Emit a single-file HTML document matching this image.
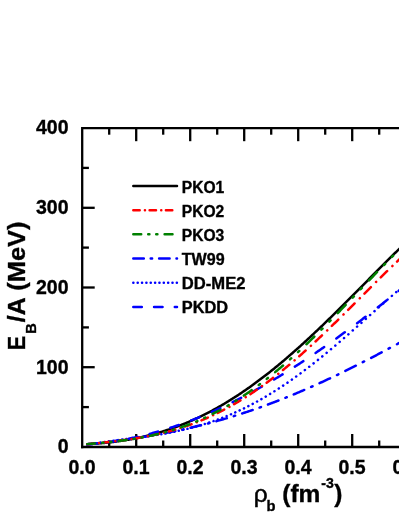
<!DOCTYPE html>
<html><head><meta charset="utf-8"><title>EOS</title>
<style>
html,body{margin:0;padding:0;background:#fff;}
body{width:399px;height:516px;overflow:hidden;}
svg{display:block;will-change:transform;}
text{font-family:"Liberation Sans",sans-serif;font-weight:bold;fill:#000;stroke:#000;stroke-width:0.35px;}
.tl{font-size:19.5px;}
.lg{font-size:15.6px;}
.ax{font-size:24.5px;}
.crv{fill:none;stroke-width:2.5;stroke-linecap:round;stroke-linejoin:round;}
</style></head><body>
<svg width="399" height="516" viewBox="0 0 399 516">
<rect width="399" height="516" fill="#fff"/>
<defs><clipPath id="cp"><rect x="82" y="128" width="330" height="320"/></clipPath></defs>

<g stroke="#000" stroke-width="2.3" fill="none" stroke-linecap="butt">
<path d="M82.2,448.15 L82.2,128.2 L404,128.2"/>
<path d="M81.05,447.0 L404,447.0"/>
<path d="M109.2,447.0 v-6.5"/>
<path d="M109.2,128.2 v6.5"/>
<path d="M136.2,447.0 v-13"/>
<path d="M136.2,128.2 v13"/>
<path d="M163.2,447.0 v-6.5"/>
<path d="M163.2,128.2 v6.5"/>
<path d="M190.2,447.0 v-13"/>
<path d="M190.2,128.2 v13"/>
<path d="M217.2,447.0 v-6.5"/>
<path d="M217.2,128.2 v6.5"/>
<path d="M244.2,447.0 v-13"/>
<path d="M244.2,128.2 v13"/>
<path d="M271.2,447.0 v-6.5"/>
<path d="M271.2,128.2 v6.5"/>
<path d="M298.2,447.0 v-13"/>
<path d="M298.2,128.2 v13"/>
<path d="M325.2,447.0 v-6.5"/>
<path d="M325.2,128.2 v6.5"/>
<path d="M352.2,447.0 v-13"/>
<path d="M352.2,128.2 v13"/>
<path d="M379.2,447.0 v-6.5"/>
<path d="M379.2,128.2 v6.5"/>
<path d="M406.2,447.0 v-13"/>
<path d="M406.2,128.2 v13"/>
<path d="M82.2,407.1 h6.7"/>
<path d="M82.2,367.2 h12.5"/>
<path d="M82.2,327.4 h6.7"/>
<path d="M82.2,287.5 h12.5"/>
<path d="M82.2,247.6 h6.7"/>
<path d="M82.2,207.8 h12.5"/>
<path d="M82.2,167.9 h6.7"/>
</g>
<g clip-path="url(#cp)">
<path class="crv" d="M87.30,444.20 L88.30,444.14 L89.30,444.08 L90.30,444.02 L91.30,443.95 L92.30,443.89 L93.30,443.82 L94.30,443.74 L95.30,443.67 L96.30,443.59 L97.30,443.52 L98.30,443.43 L99.30,443.35 L100.30,443.26 L101.30,443.18 L102.30,443.08 L103.30,442.99 L104.30,442.89 L105.30,442.80 L106.30,442.69 L107.30,442.59 L108.30,442.48 L109.30,442.37 L110.30,442.26 L111.30,442.14 L112.30,442.02 L113.30,441.90 L114.30,441.77 L115.30,441.65 L116.30,441.51 L117.30,441.38 L118.30,441.24 L119.30,441.10 L120.30,440.96 L121.30,440.81 L122.30,440.66 L123.30,440.50 L124.30,440.35 L125.30,440.19 L126.30,440.02 L127.30,439.85 L128.30,439.68 L129.30,439.51 L130.30,439.33 L131.30,439.15 L132.30,438.96 L133.30,438.77 L134.30,438.58 L135.30,438.38 L136.30,438.18 L137.30,437.98 L138.30,437.77 L139.30,437.56 L140.30,437.34 L141.30,437.12 L142.30,436.90 L143.30,436.67 L144.30,436.44 L145.30,436.20 L146.30,435.97 L147.30,435.72 L148.30,435.47 L149.30,435.22 L150.30,434.97 L151.30,434.71 L152.30,434.44 L153.30,434.18 L154.30,433.91 L155.30,433.63 L156.30,433.35 L157.30,433.06 L158.30,432.78 L159.30,432.48 L160.30,432.19 L161.30,431.88 L162.30,431.58 L163.30,431.27 L164.30,430.95 L165.30,430.63 L166.30,430.31 L167.30,429.98 L168.30,429.65 L169.30,429.31 L170.30,428.97 L171.30,428.63 L172.30,428.28 L173.30,427.92 L174.30,427.56 L175.30,427.20 L176.30,426.83 L177.30,426.46 L178.30,426.08 L179.30,425.70 L180.30,425.32 L181.30,424.92 L182.30,424.53 L183.30,424.13 L184.30,423.72 L185.30,423.32 L186.30,422.90 L187.30,422.48 L188.30,422.06 L189.30,421.63 L190.30,421.20 L191.30,420.76 L192.30,420.32 L193.30,419.88 L194.30,419.42 L195.30,418.97 L196.30,418.51 L197.30,418.04 L198.30,417.57 L199.30,417.10 L200.30,416.62 L201.30,416.14 L202.30,415.65 L203.30,415.15 L204.30,414.66 L205.30,414.15 L206.30,413.65 L207.30,413.13 L208.30,412.62 L209.30,412.09 L210.30,411.57 L211.30,411.04 L212.30,410.50 L213.30,409.96 L214.30,409.42 L215.30,408.87 L216.30,408.31 L217.30,407.75 L218.30,407.19 L219.30,406.62 L220.30,406.05 L221.30,405.47 L222.30,404.89 L223.30,404.30 L224.30,403.71 L225.30,403.11 L226.30,402.51 L227.30,401.90 L228.30,401.29 L229.30,400.68 L230.30,400.06 L231.30,399.43 L232.30,398.80 L233.30,398.17 L234.30,397.53 L235.30,396.89 L236.30,396.24 L237.30,395.59 L238.30,394.93 L239.30,394.27 L240.30,393.61 L241.30,392.94 L242.30,392.26 L243.30,391.58 L244.30,390.90 L245.30,390.21 L246.30,389.52 L247.30,388.82 L248.30,388.12 L249.30,387.41 L250.30,386.70 L251.30,385.99 L252.30,385.27 L253.30,384.55 L254.30,383.82 L255.30,383.09 L256.30,382.35 L257.30,381.61 L258.30,380.87 L259.30,380.12 L260.30,379.37 L261.30,378.61 L262.30,377.85 L263.30,377.08 L264.30,376.31 L265.30,375.54 L266.30,374.76 L267.30,373.98 L268.30,373.19 L269.30,372.40 L270.30,371.61 L271.30,370.81 L272.30,370.01 L273.30,369.20 L274.30,368.40 L275.30,367.58 L276.30,366.76 L277.30,365.94 L278.30,365.12 L279.30,364.29 L280.30,363.46 L281.30,362.62 L282.30,361.78 L283.30,360.94 L284.30,360.09 L285.30,359.24 L286.30,358.39 L287.30,357.53 L288.30,356.67 L289.30,355.80 L290.30,354.93 L291.30,354.06 L292.30,353.19 L293.30,352.31 L294.30,351.43 L295.30,350.54 L296.30,349.66 L297.30,348.76 L298.30,347.87 L299.30,346.97 L300.30,346.07 L301.30,345.17 L302.30,344.26 L303.30,343.35 L304.30,342.44 L305.30,341.52 L306.30,340.60 L307.30,339.68 L308.30,338.76 L309.30,337.83 L310.30,336.90 L311.30,335.97 L312.30,335.03 L313.30,334.09 L314.30,333.15 L315.30,332.21 L316.30,331.26 L317.30,330.32 L318.30,329.36 L319.30,328.41 L320.30,327.46 L321.30,326.50 L322.30,325.54 L323.30,324.58 L324.30,323.61 L325.30,322.65 L326.30,321.68 L327.30,320.71 L328.30,319.73 L329.30,318.76 L330.30,317.78 L331.30,316.81 L332.30,315.83 L333.30,314.84 L334.30,313.86 L335.30,312.88 L336.30,311.89 L337.30,310.90 L338.30,309.91 L339.30,308.92 L340.30,307.93 L341.30,306.93 L342.30,305.94 L343.30,304.94 L344.30,303.94 L345.30,302.94 L346.30,301.94 L347.30,300.94 L348.30,299.94 L349.30,298.94 L350.30,297.93 L351.30,296.93 L352.30,295.92 L353.30,294.91 L354.30,293.91 L355.30,292.90 L356.30,291.89 L357.30,290.88 L358.30,289.87 L359.30,288.86 L360.30,287.85 L361.30,286.84 L362.30,285.83 L363.30,284.82 L364.30,283.81 L365.30,282.80 L366.30,281.79 L367.30,280.78 L368.30,279.76 L369.30,278.75 L370.30,277.74 L371.30,276.73 L372.30,275.72 L373.30,274.71 L374.30,273.71 L375.30,272.70 L376.30,271.69 L377.30,270.68 L378.30,269.68 L379.30,268.67 L380.30,267.67 L381.30,266.66 L382.30,265.66 L383.30,264.66 L384.30,263.66 L385.30,262.66 L386.30,261.66 L387.30,260.66 L388.30,259.67 L389.30,258.67 L390.30,257.68 L391.30,256.69 L392.30,255.70 L393.30,254.72 L394.30,253.73 L395.30,252.75 L396.30,251.77 L397.30,250.79 L398.30,249.81 L399.30,248.83 L400.30,247.86 L401.30,246.89 L402.30,245.92 L403.30,244.96" stroke="#000"/>
<path class="crv" d="M87.30,444.51 L88.30,444.40 L89.30,444.28 L90.30,444.17 L91.30,444.05 L92.30,443.94 L93.30,443.82 L94.30,443.70 L95.30,443.58 L96.30,443.46 L97.30,443.35 L97.85,443.28 M104.75,442.44 L105.75,442.31 L106.15,442.26 M113.15,441.37 L114.15,441.24 L115.15,441.11 L116.15,440.97 L117.15,440.84 L118.15,440.70 L119.15,440.57 L120.15,440.43 L121.15,440.29 L122.15,440.16 L123.15,440.02 L123.65,439.95 M130.55,438.95 L131.55,438.81 L131.95,438.75 M138.95,437.67 L139.95,437.52 L140.95,437.36 L141.95,437.20 L142.95,437.04 L143.95,436.87 L144.95,436.71 L145.95,436.54 L146.95,436.38 L147.95,436.21 L148.95,436.04 L149.45,435.96 M156.35,434.75 L157.35,434.57 L157.75,434.50 M164.75,433.19 L165.75,433.00 L166.75,432.81 L167.75,432.61 L168.75,432.41 L169.75,432.22 L170.75,432.02 L171.75,431.81 L172.75,431.61 L173.75,431.41 L174.75,431.20 L175.25,431.10 M182.15,429.63 L183.15,429.41 L183.55,429.32 M190.55,427.74 L191.55,427.51 L192.55,427.27 L193.55,427.04 L194.55,426.80 L195.55,426.56 L196.55,426.32 L197.55,426.08 L198.55,425.83 L199.55,425.58 L200.55,425.34 L201.05,425.21 M207.95,423.45 L208.95,423.19 L209.35,423.08 M216.35,421.19 L217.35,420.91 L218.35,420.63 L219.35,420.35 L220.35,420.07 L221.35,419.78 L222.35,419.50 L223.35,419.21 L224.35,418.92 L225.35,418.63 L226.35,418.34 L226.85,418.19 M233.75,416.11 L234.75,415.80 L235.15,415.67 M242.15,413.46 L243.15,413.13 L244.15,412.81 L245.15,412.48 L246.15,412.15 L247.15,411.82 L248.15,411.49 L249.15,411.15 L250.15,410.82 L251.15,410.48 L252.15,410.14 L252.65,409.97 M259.55,407.56 L260.55,407.21 L260.95,407.06 M267.95,404.52 L268.95,404.15 L269.95,403.78 L270.95,403.40 L271.95,403.03 L272.95,402.65 L273.95,402.27 L274.95,401.89 L275.95,401.51 L276.95,401.12 L277.95,400.73 L278.45,400.54 M285.35,397.82 L286.35,397.42 L286.75,397.26 M293.75,394.40 L294.75,393.98 L295.75,393.56 L296.75,393.14 L297.75,392.72 L298.75,392.30 L299.75,391.88 L300.75,391.45 L301.75,391.02 L302.75,390.60 L303.75,390.17 L304.25,389.95 M311.15,386.93 L312.15,386.49 L312.55,386.31 M319.55,383.16 L320.55,382.70 L321.55,382.24 L322.55,381.78 L323.55,381.32 L324.55,380.86 L325.55,380.39 L326.55,379.93 L327.55,379.46 L328.55,378.99 L329.55,378.52 L330.05,378.29 M336.95,375.01 L337.95,374.53 L338.35,374.33 M345.35,370.92 L346.35,370.43 L347.35,369.94 L348.35,369.45 L349.35,368.95 L350.35,368.45 L351.35,367.96 L352.35,367.46 L353.35,366.96 L354.35,366.46 L355.35,365.95 L355.85,365.70 M362.75,362.20 L363.75,361.69 L364.15,361.49 M371.15,357.88 L372.15,357.36 L373.15,356.84 L374.15,356.32 L375.15,355.79 L376.15,355.27 L377.15,354.75 L378.15,354.22 L379.15,353.70 L380.15,353.17 L381.15,352.64 L381.65,352.38 M388.55,348.72 L389.55,348.19 L389.95,347.98 M396.95,344.23 L397.95,343.70 L398.95,343.16 L399.95,342.62 L400.95,342.08 L401.95,341.54 L402.95,341.00 L403.95,340.46 L404.00,340.44" stroke="#00f"/>
<path class="crv" d="M87.30,444.81 L87.45,444.78 M91.70,444.00 L91.80,443.99 M96.05,443.26 L96.15,443.25 M100.40,442.57 L100.50,442.56 M104.75,441.93 L104.85,441.91 M109.10,441.31 L109.20,441.30 M113.45,440.72 L113.55,440.71 M117.80,440.16 L117.90,440.14 M122.15,439.60 L122.25,439.59 M126.50,439.06 L126.60,439.04 M130.85,438.51 L130.95,438.50 M135.20,437.95 L135.30,437.94 M139.55,437.39 L139.65,437.37 M143.90,436.80 L144.00,436.79 M148.25,436.19 L148.35,436.18 M152.60,435.55 L152.70,435.54 M156.95,434.88 L157.05,434.87 M161.30,434.17 L161.40,434.15 M165.65,433.41 L165.75,433.40 M170.00,432.61 L170.10,432.59 M174.35,431.75 L174.45,431.73 M178.70,430.84 L178.80,430.82 M183.05,429.86 L183.15,429.84 M187.40,428.83 L187.50,428.80 M191.75,427.72 L191.85,427.70 M196.10,426.55 L196.20,426.52 M200.45,425.30 L200.55,425.27 M204.80,423.98 L204.90,423.94 M209.15,422.57 L209.25,422.54 M213.50,421.09 L213.60,421.06 M217.85,419.53 L217.95,419.49 M222.20,417.88 L222.30,417.84 M226.55,416.15 L226.65,416.11 M230.90,414.33 L231.00,414.29 M235.25,412.42 L235.35,412.38 M239.60,410.43 L239.70,410.38 M243.95,408.35 L244.05,408.30 M248.30,406.17 L248.40,406.12 M252.65,403.91 L252.75,403.86 M257.00,401.56 L257.10,401.51 M261.35,399.12 L261.45,399.07 M265.70,396.60 L265.80,396.54 M270.05,393.98 L270.15,393.92 M274.40,391.28 L274.50,391.22 M278.75,388.50 L278.85,388.43 M283.10,385.63 L283.20,385.56 M287.45,382.68 L287.55,382.61 M291.80,379.65 L291.90,379.58 M296.15,376.54 L296.25,376.47 M300.50,373.36 L300.60,373.28 M304.85,370.10 L304.95,370.03 M309.20,366.78 L309.30,366.70 M313.55,363.38 L313.65,363.31 M317.90,359.93 L318.00,359.85 M322.25,356.42 L322.35,356.34 M326.60,352.85 L326.70,352.76 M330.95,349.23 L331.05,349.14 M335.30,345.56 L335.40,345.47 M339.65,341.85 L339.75,341.76 M344.00,338.10 L344.10,338.01 M348.35,334.31 L348.45,334.22 M352.70,330.50 L352.80,330.41 M357.05,326.67 L357.15,326.58 M361.40,322.82 L361.50,322.73 M365.75,318.95 L365.85,318.86 M370.10,315.08 L370.20,315.00 M374.45,311.22 L374.55,311.13 M378.80,307.36 L378.90,307.27 M383.15,303.51 L383.25,303.43 M387.50,299.69 L387.60,299.60 M391.85,295.90 L391.95,295.81 M396.20,292.14 L396.30,292.05 M400.55,288.42 L400.65,288.34" stroke="#00f"/>
<path class="crv" d="M87.30,444.15 L88.30,444.08 L89.30,444.01 L90.30,443.93 L91.30,443.86 L92.30,443.78 L93.30,443.69 L94.30,443.61 L95.30,443.52 L95.85,443.46 M108.10,442.08 L109.10,441.94 L110.10,441.81 L111.10,441.67 L112.10,441.52 L113.10,441.38 L114.10,441.23 L115.10,441.07 L116.10,440.92 L116.60,440.84 M128.85,438.65 L129.85,438.45 L130.85,438.24 L131.85,438.04 L132.85,437.83 L133.85,437.62 L134.85,437.40 L135.85,437.19 L136.85,436.96 L137.35,436.85 M149.60,433.87 L150.60,433.61 L151.60,433.35 L152.60,433.08 L153.60,432.80 L154.60,432.53 L155.60,432.25 L156.60,431.97 L157.60,431.68 L158.10,431.54 M170.35,427.80 L171.35,427.47 L172.35,427.15 L173.35,426.81 L174.35,426.48 L175.35,426.14 L176.35,425.80 L177.35,425.46 L178.35,425.12 L178.85,424.94 M191.10,420.46 L192.10,420.07 L193.10,419.69 L194.10,419.30 L195.10,418.90 L196.10,418.51 L197.10,418.11 L198.10,417.71 L199.10,417.30 L199.60,417.10 M211.85,411.90 L212.85,411.46 L213.85,411.02 L214.85,410.57 L215.85,410.12 L216.85,409.67 L217.85,409.21 L218.85,408.75 L219.85,408.29 L220.35,408.06 M232.60,402.18 L233.60,401.69 L234.60,401.19 L235.60,400.69 L236.60,400.18 L237.60,399.67 L238.60,399.16 L239.60,398.65 L240.60,398.14 L241.10,397.88 M253.35,391.36 L254.35,390.81 L255.35,390.26 L256.35,389.71 L257.35,389.15 L258.35,388.59 L259.35,388.03 L260.35,387.47 L261.35,386.90 L261.85,386.62 M274.10,379.50 L275.10,378.90 L276.10,378.30 L277.10,377.70 L278.10,377.10 L279.10,376.49 L280.10,375.88 L281.10,375.27 L282.10,374.66 L282.60,374.35 M294.85,366.66 L295.85,366.02 L296.85,365.38 L297.85,364.73 L298.85,364.08 L299.85,363.43 L300.85,362.78 L301.85,362.13 L302.85,361.47 L303.35,361.14 M315.60,352.94 L316.60,352.26 L317.60,351.57 L318.60,350.89 L319.60,350.20 L320.60,349.51 L321.60,348.82 L322.60,348.12 L323.60,347.43 L324.10,347.08 M336.35,338.41 L337.35,337.69 L338.35,336.97 L339.35,336.24 L340.35,335.52 L341.35,334.79 L342.35,334.07 L343.35,333.34 L344.35,332.61 L344.85,332.24 M357.10,323.15 L358.10,322.40 L359.10,321.65 L360.10,320.89 L361.10,320.14 L362.10,319.38 L363.10,318.62 L364.10,317.86 L365.10,317.10 L365.60,316.72 M377.85,307.27 L378.85,306.49 L379.85,305.71 L380.85,304.93 L381.85,304.15 L382.85,303.36 L383.85,302.58 L384.85,301.79 L385.85,301.00 L386.35,300.61 M398.60,290.87 L399.60,290.07 L400.60,289.26 L401.60,288.46 L402.60,287.66 L403.60,286.85 L404.00,286.53" stroke="#00f"/>
<path class="crv" d="M87.30,444.28 L88.30,444.17 L89.30,444.05 L90.30,443.94 L91.30,443.83 L92.30,443.72 L93.30,443.61 L93.75,443.56 M98.95,442.99 L99.05,442.98 M103.65,442.48 L104.65,442.37 L105.65,442.25 L106.65,442.14 L107.65,442.03 L108.65,441.92 L109.65,441.80 L110.05,441.76 M115.25,441.15 L115.35,441.14 M119.95,440.57 L120.95,440.44 L121.95,440.32 L122.95,440.19 L123.95,440.05 L124.95,439.92 L125.95,439.78 L126.35,439.73 M131.55,438.99 L131.65,438.97 M136.25,438.26 L137.25,438.10 L138.25,437.94 L139.25,437.77 L140.25,437.60 L141.25,437.43 L142.25,437.25 L142.65,437.18 M147.85,436.22 L147.95,436.20 M152.55,435.28 L153.55,435.07 L154.55,434.86 L155.55,434.64 L156.55,434.42 L157.55,434.20 L158.55,433.97 L158.95,433.88 M164.15,432.63 L164.25,432.61 M168.85,431.42 L169.85,431.15 L170.85,430.87 L171.85,430.60 L172.85,430.31 L173.85,430.03 L174.85,429.74 L175.25,429.62 M180.45,428.03 L180.55,428.00 M185.15,426.49 L186.15,426.15 L187.15,425.81 L188.15,425.46 L189.15,425.11 L190.15,424.75 L191.15,424.38 L191.55,424.24 M196.75,422.26 L196.85,422.22 M201.45,420.37 L202.45,419.95 L203.45,419.53 L204.45,419.10 L205.45,418.67 L206.45,418.24 L207.45,417.79 L207.85,417.62 M213.05,415.23 L213.15,415.18 M217.75,412.96 L218.75,412.46 L219.75,411.96 L220.75,411.45 L221.75,410.93 L222.75,410.42 L223.75,409.89 L224.15,409.68 M229.35,406.87 L229.45,406.81 M234.05,404.20 L235.05,403.62 L236.05,403.04 L237.05,402.44 L238.05,401.85 L239.05,401.25 L240.05,400.64 L240.45,400.40 M245.65,397.15 L245.75,397.09 M250.35,394.10 L251.35,393.44 L252.35,392.77 L253.35,392.10 L254.35,391.42 L255.35,390.73 L256.35,390.05 L256.75,389.77 M261.95,386.10 L262.05,386.03 M266.65,382.68 L267.65,381.94 L268.65,381.19 L269.65,380.44 L270.65,379.68 L271.65,378.92 L272.65,378.16 L273.05,377.85 M278.25,373.79 L278.35,373.71 M282.95,370.01 L283.95,369.20 L284.95,368.38 L285.95,367.56 L286.95,366.73 L287.95,365.90 L288.95,365.06 L289.35,364.73 M294.55,360.31 L294.65,360.22 M299.25,356.22 L300.25,355.34 L301.25,354.46 L302.25,353.57 L303.25,352.68 L304.25,351.79 L305.25,350.89 L305.65,350.53 M310.85,345.81 L310.95,345.71 M315.55,341.46 L316.55,340.53 L317.55,339.59 L318.55,338.65 L319.55,337.71 L320.55,336.77 L321.55,335.82 L321.95,335.44 M327.15,330.47 L327.25,330.38 M331.85,325.93 L332.85,324.96 L333.85,323.98 L334.85,323.01 L335.85,322.03 L336.85,321.05 L337.85,320.07 L338.25,319.67 M343.45,314.54 L343.55,314.44 M348.15,309.87 L349.15,308.88 L350.15,307.88 L351.15,306.88 L352.15,305.88 L353.15,304.88 L354.15,303.88 L354.55,303.48 M359.75,298.28 L359.85,298.18 M364.45,293.57 L365.45,292.57 L366.45,291.57 L367.45,290.57 L368.45,289.57 L369.45,288.57 L370.45,287.57 L370.85,287.17 M376.05,281.99 L376.15,281.90 M380.75,277.35 L381.75,276.36 L382.75,275.38 L383.75,274.40 L384.75,273.42 L385.75,272.44 L386.75,271.47 L387.15,271.08 M392.35,266.05 L392.45,265.95 M397.05,261.57 L398.05,260.62 L399.05,259.68 L400.05,258.75 L401.05,257.81 L402.05,256.88 L403.05,255.95 L403.45,255.58" stroke="#f00"/>
<path class="crv" d="M87.30,444.16 L88.30,444.06 L89.30,443.97 L90.30,443.88 L91.30,443.79 L92.30,443.69 L93.30,443.60 L94.30,443.51 L95.25,443.42 M102.25,442.76 L103.25,442.66 L103.45,442.64 M110.25,441.94 L111.25,441.83 L111.45,441.81 M118.65,440.98 L119.65,440.86 L120.65,440.73 L121.65,440.60 L122.65,440.47 L123.65,440.34 L124.65,440.21 L125.65,440.07 L126.55,439.95 M133.55,438.91 L134.55,438.75 L134.75,438.71 M141.55,437.54 L142.55,437.36 L142.75,437.32 M149.95,435.88 L150.95,435.67 L151.95,435.45 L152.95,435.23 L153.95,435.01 L154.95,434.78 L155.95,434.54 L156.95,434.31 L157.85,434.09 M164.85,432.29 L165.85,432.02 L166.05,431.96 M172.85,429.98 L173.85,429.67 L174.05,429.61 M181.25,427.24 L182.25,426.89 L183.25,426.54 L184.25,426.18 L185.25,425.82 L186.25,425.45 L187.25,425.08 L188.25,424.70 L189.15,424.35 M196.15,421.54 L197.15,421.12 L197.35,421.03 M204.15,418.02 L205.15,417.56 L205.35,417.47 M212.55,413.97 L213.55,413.46 L214.55,412.95 L215.55,412.43 L216.55,411.91 L217.55,411.38 L218.55,410.85 L219.55,410.31 L220.45,409.82 M227.45,405.86 L228.45,405.28 L228.65,405.16 M235.45,401.02 L236.45,400.39 L236.65,400.27 M243.85,395.58 L244.85,394.90 L245.85,394.22 L246.85,393.54 L247.85,392.85 L248.85,392.16 L249.85,391.46 L250.85,390.76 L251.75,390.12 M258.75,385.02 L259.75,384.27 L259.95,384.12 M266.75,378.89 L267.75,378.10 L267.95,377.94 M275.15,372.12 L276.15,371.29 L277.15,370.46 L278.15,369.62 L279.15,368.78 L280.15,367.94 L281.15,367.09 L282.15,366.23 L283.05,365.46 M290.05,359.33 L291.05,358.44 L291.25,358.26 M298.05,352.09 L299.05,351.17 L299.25,350.98 M306.45,344.23 L307.45,343.27 L308.45,342.32 L309.45,341.36 L310.45,340.40 L311.45,339.43 L312.45,338.46 L313.45,337.49 L314.35,336.61 M321.35,329.71 L322.35,328.71 L322.55,328.51 M329.35,321.67 L330.35,320.65 L330.55,320.45 M337.75,313.08 L338.75,312.05 L339.75,311.02 L340.75,309.99 L341.75,308.95 L342.75,307.92 L343.75,306.88 L344.75,305.84 L345.65,304.90 M352.65,297.60 L353.65,296.56 L353.85,296.35 M360.65,289.23 L361.65,288.18 L361.85,287.97 M369.05,280.45 L370.05,279.40 L371.05,278.36 L372.05,277.32 L373.05,276.28 L374.05,275.24 L375.05,274.20 L376.05,273.17 L376.95,272.23 M383.95,265.03 L384.95,264.01 L385.15,263.81 M391.95,256.94 L392.95,255.94 L393.15,255.74 M400.35,248.63 L401.35,247.66 L402.35,246.69 L403.35,245.73 L404.00,245.10" stroke="#008000"/>
</g>
<text class="tl" x="82.0" y="474" text-anchor="middle">0.0</text>
<text class="tl" x="136.0" y="474" text-anchor="middle">0.1</text>
<text class="tl" x="190.0" y="474" text-anchor="middle">0.2</text>
<text class="tl" x="244.0" y="474" text-anchor="middle">0.3</text>
<text class="tl" x="298.0" y="474" text-anchor="middle">0.4</text>
<text class="tl" x="352.0" y="474" text-anchor="middle">0.5</text>
<text class="tl" x="406.0" y="474" text-anchor="middle">0.6</text>
<text class="tl" x="68.5" y="453.3" text-anchor="end">0</text>
<text class="tl" x="68.5" y="373.6" text-anchor="end">100</text>
<text class="tl" x="68.5" y="293.8" text-anchor="end">200</text>
<text class="tl" x="68.5" y="214.1" text-anchor="end">300</text>
<text class="tl" x="68.5" y="134.3" text-anchor="end">400</text>
<path class="crv" d="M133.3,186.0 H177.0" stroke="#000"/>
<text class="lg" transform="translate(181.8,192.5) scale(1.0,1)">PKO1</text>
<path class="crv" d="M133.3,210.2 H177.0" stroke="#f00" stroke-dasharray="6.4 5.2 0.1 4.6"/>
<text class="lg" transform="translate(181.8,216.7) scale(1.0,1)">PKO2</text>
<path class="crv" d="M133.3,234.3 H177.0" stroke="#008000" stroke-dasharray="7.9 7.0 1.2 6.8 1.2 7.2"/>
<text class="lg" transform="translate(181.8,240.8) scale(1.0,1)">PKO3</text>
<path class="crv" d="M133.3,258.5 H177.0" stroke="#00f" stroke-dasharray="10.5 6.9 1.4 7"/>
<text class="lg" transform="translate(181.8,265.0) scale(1.03,1)">TW99</text>
<path class="crv" d="M133.3,282.7 H177.0" stroke="#00f" stroke-dasharray="0.1 4.25"/>
<text class="lg" transform="translate(181.8,289.2) scale(1.065,1)">DD-ME2</text>
<path class="crv" d="M133.3,306.9 H177.0" stroke="#00f" stroke-dasharray="8.5 12.25"/>
<text class="lg" transform="translate(181.8,313.4) scale(1.05,1)">PKDD</text>
<text class="ax" x="253.7" y="501.6" style="font-weight:normal;stroke-width:0.5px">ρ</text>
<text class="ax" x="266.5" y="511" style="font-size:14.7px">b</text>
<text class="ax" x="282.3" y="501.6">(fm</text>
<text class="ax" transform="translate(321.2,487.6) scale(0.95,1)" style="font-size:14.9px">-3</text>
<text class="ax" x="334.3" y="501.6">)</text>
<text class="ax" transform="translate(25,350.2) rotate(-90) scale(0.88,1)" style="font-size:24.5px">E</text>
<text class="ax" transform="translate(35.6,333.7) rotate(-90) scale(1.0,1)" style="font-size:14.7px">B</text>
<text class="ax" transform="translate(25,322.2) rotate(-90) scale(1.01,1)" style="font-size:24.5px">/A</text>
<text class="ax" transform="translate(25,290.8) rotate(-90) scale(1.04,1)" style="font-size:24.5px">(MeV)</text>
</svg></body></html>
